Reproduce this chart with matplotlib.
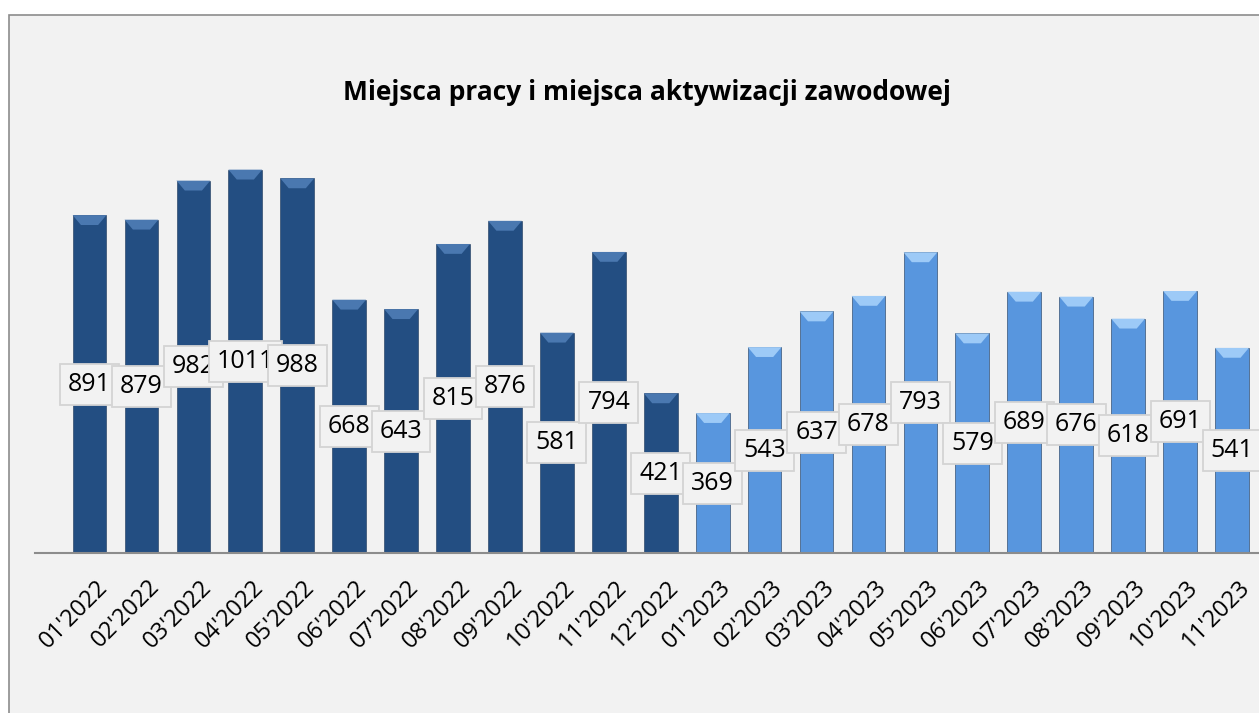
import matplotlib
matplotlib.use('Agg')
import matplotlib.pyplot as plt
from matplotlib.patches import Rectangle, Polygon
from matplotlib.transforms import ScaledTranslation

months = ["01'2022", "02'2022", "03'2022", "04'2022", "05'2022", "06'2022",
          "07'2022", "08'2022", "09'2022", "10'2022", "11'2022", "12'2022",
          "01'2023", "02'2023", "03'2023", "04'2023", "05'2023", "06'2023",
          "07'2023", "08'2023", "09'2023", "10'2023", "11'2023"]
values = [891, 879, 982, 1011, 988, 668, 643, 815, 876, 581, 794, 421,
          369, 543, 637, 678, 793, 579, 689, 676, 618, 691, 541]

DARK = "#234e82"
DARK_TOP = "#4a78b0"
LIGHT = "#5896de"
LIGHT_TOP = "#9dcaf7"

plt.rcParams['font.family'] = ['Open Sans', 'DejaVu Sans']

fig = plt.figure(figsize=(12.59, 7.13), dpi=100)
fig.patch.set_facecolor('white')

# chart frame (cropped on the right and bottom)
frame = Rectangle((9 / 1259, -0.05), 1.2, 1 - 15 / 713 + 0.05,
                  transform=fig.transFigure, facecolor='#f2f2f2',
                  edgecolor='#8c8c8c', linewidth=1.2, zorder=-10)
fig.patches.append(frame)

ax = fig.add_axes([35 / 1259, 1 - 553 / 713, 1 - 35 / 1259, (553 - 98) / 713])
ax.set_facecolor('none')
ax.set_zorder(5)

x = list(range(len(values)))
colors = [DARK if m.endswith('2022') else LIGHT for m in months]
tops = [DARK_TOP if m.endswith('2022') else LIGHT_TOP for m in months]
width = 0.65

ax.bar(x, values, width=width, color=colors, edgecolor='#1a3558', linewidth=0.4, zorder=2)

# bevel on the top of each bar
dx, dy = 0.16, 26
for xi, v, tc in zip(x, values, tops):
    poly = Polygon([(xi - width / 2, v), (xi + width / 2, v),
                    (xi + width / 2 - dx, v - dy), (xi - width / 2 + dx, v - dy)],
                   closed=True, facecolor=tc, edgecolor='none', zorder=3)
    ax.add_patch(poly)

for xi, v in zip(x, values):
    ax.text(xi, v / 2, str(v), ha='center', va='center', fontsize=18, zorder=5,
            bbox=dict(boxstyle='square,pad=0.32', facecolor='#f2f2f2',
                      edgecolor='#d4d4d4', linewidth=1.3))

ax.set_xlim(-1.05, 22.52)
ax.set_ylim(0, 1200)
ax.set_xticks(x)
ax.set_xticklabels(months, rotation=45, ha='right', rotation_mode='anchor', fontsize=17)
ax.tick_params(axis='x', length=0, pad=16)
offset = ScaledTranslation(6 / 100, 0, fig.dpi_scale_trans)
for lbl in ax.get_xticklabels():
    lbl.set_transform(lbl.get_transform() + offset)
ax.set_yticks([])
for s in ['top', 'right', 'left']:
    ax.spines[s].set_visible(False)
ax.spines['bottom'].set_color('#8c8c8c')
ax.spines['bottom'].set_linewidth(1.5)

fig.text(647 / 1259, 1 - 93 / 713, "Miejsca pracy i miejsca aktywizacji zawodowej",
         ha='center', va='center', fontsize=19, fontweight='bold', zorder=6)

fig.savefig('out.png', dpi=100)
